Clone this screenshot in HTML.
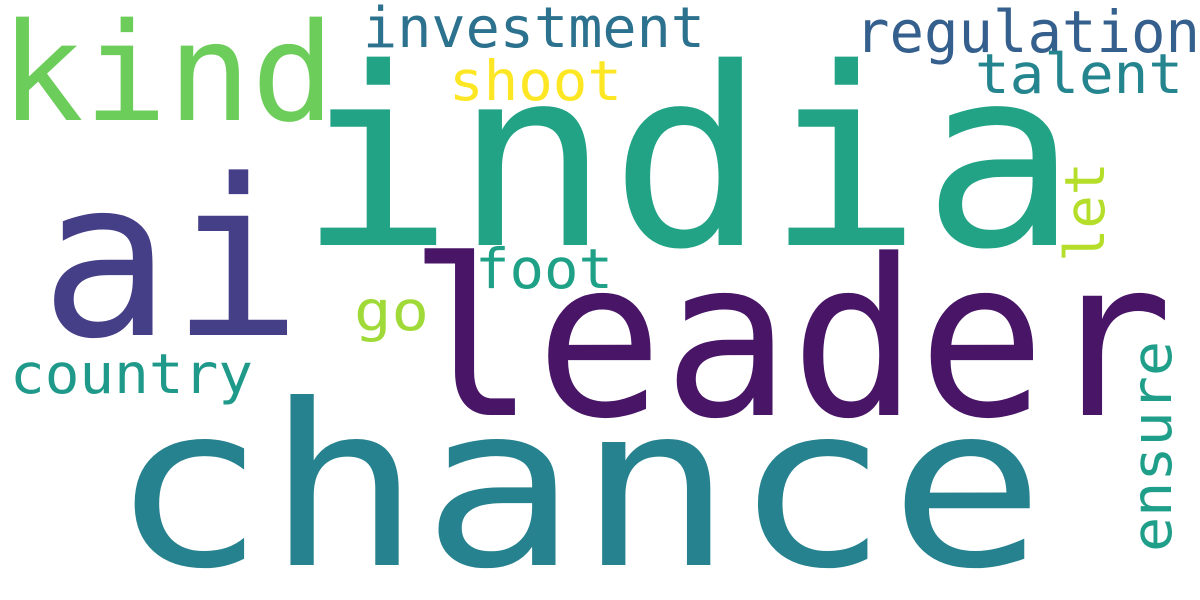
<!DOCTYPE html>
<html><head><meta charset="utf-8"><style>
html,body{margin:0;padding:0;background:#fff;}
svg{display:block;}
text{font-family:"DejaVu Sans Mono","Liberation Mono",monospace;}
</style></head><body>
<svg width="1200" height="600" viewBox="0 0 1200 600">
<rect width="1200" height="600" fill="#fff"/>
<text x="298" y="245" font-size="248" fill="#22a386" textLength="780" lengthAdjust="spacingAndGlyphs">india</text>
<text x="110" y="565" font-size="225" fill="#26828e" textLength="935" lengthAdjust="spacingAndGlyphs">chance</text>
<text x="408" y="415" font-size="218" fill="#481567" textLength="765" lengthAdjust="spacingAndGlyphs">leader</text>
<text x="40" y="335" font-size="218" fill="#453f88" textLength="262" lengthAdjust="spacingAndGlyphs">ai</text>
<text x="0" y="120" font-size="136" fill="#6ccd5a" textLength="335" lengthAdjust="spacingAndGlyphs">kind</text>
<text x="363" y="47" font-size="56" fill="#2c728e" textLength="342" lengthAdjust="spacingAndGlyphs">investment</text>
<text x="855" y="52" font-size="58" fill="#355f8d" textLength="345" lengthAdjust="spacingAndGlyphs">regulation</text>
<text x="975" y="93" font-size="55" fill="#25858e" textLength="208" lengthAdjust="spacingAndGlyphs">talent</text>
<text x="449" y="100" font-size="55" fill="#fde725" textLength="173" lengthAdjust="spacingAndGlyphs">shoot</text>
<text x="475" y="288" font-size="55" fill="#1fa187" textLength="138" lengthAdjust="spacingAndGlyphs">foot</text>
<text x="354" y="330" font-size="55" fill="#a0da39" textLength="75" lengthAdjust="spacingAndGlyphs">go</text>
<text x="10" y="393" font-size="55" fill="#1f9a8a" textLength="243" lengthAdjust="spacingAndGlyphs">country</text>
<text transform="translate(1104,262) rotate(-90)" font-size="55" fill="#b5de2b" textLength="100" lengthAdjust="spacingAndGlyphs">let</text>
<text transform="translate(1171,552) rotate(-90)" font-size="55" fill="#1f9e89" textLength="211" lengthAdjust="spacingAndGlyphs">ensure</text>
</svg>
</body></html>
